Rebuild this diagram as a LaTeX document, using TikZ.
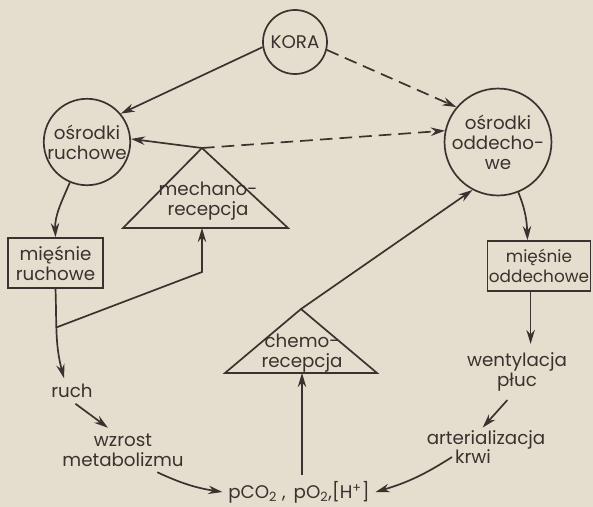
\documentclass[tikz,border=0pt]{standalone}
\usepackage{fontspec}
\setmainfont{Poppins}
\usetikzlibrary{arrows.meta,calc}
\definecolor{paper}{RGB}{229,221,205}
\definecolor{ink}{RGB}{58,50,46}
\tikzset{
  arr/.style={-{Stealth[length=10pt,width=6pt]}, line width=1.2pt, draw=ink},
  dasharr/.style={arr, dash pattern=on 9pt off 5pt},
  centre/.style={circle, draw=ink, line width=1.2pt, inner sep=0pt, align=center, text=ink, font=\fontsize{13}{14.2}\selectfont},
  musc/.style={rectangle, draw=ink, line width=1.2pt, inner xsep=1pt, inner ysep=2pt, align=center, text=ink, minimum height=1.25cm, font=\fontsize{13}{14.2}\selectfont},
  lbl/.style={align=center, inner sep=4pt, text=ink, font=\fontsize{13}{14.2}\selectfont},
  tri/.style={line width=1.2pt, draw=ink, line join=miter}
}

\begin{document}
\begin{tikzpicture}[x=0.025cm,y=-0.025cm]
\fill[paper] (0,0) rectangle (593,507);
\useasboundingbox (0,0) rectangle (593,507);

\node[centre, minimum size=1.6cm] (kora) at (295,42) {KORA};
\node[centre, minimum size=2.1cm] (osr) at (87,142) {ośrodki\\ruchowe};
\node[centre, minimum size=2.15cm] (odd) at (498,142) {ośrodki\\oddecho-\\we};

\node[musc, minimum width=2.375cm] (mr) at (55.5,263) {mięśnie\\ruchowe};
\node[musc, minimum width=2.5cm, font=\fontsize{12}{14.2}\selectfont] (mo) at (539,266) {mięśnie\\oddechowe};

\coordinate (mapex) at (202,148);
\coordinate (mbase) at (202,228);
\coordinate (brk) at (202,272);
\draw[tri] (mapex) -- (288,228) -- (123,228) -- cycle;
\node[lbl] (mech) at (208,201) {mechano-\\recepcja};

\coordinate (capex) at (301,309);
\coordinate (cbase) at (302,373);
\draw[tri] (capex) -- (377,373) -- (225,373) -- cycle;
\node[lbl] (chem) at (302,353) {chemo-\\recepcja};

\node[lbl] (ruch) at (72,391) {ruch};
\node[lbl] (wz) at (123,450) {wzrost\\metabolizmu};
\node[lbl] (pco) at (299,492) {pCO\textsubscript{2} ,\, pO\textsubscript{2},[H\textsuperscript{+}]};
\node[lbl, inner sep=6pt] (went) at (517,372) {wentylacja\\płuc};
\node[lbl, inner sep=2pt] (art) at (486,440) {arterializacja};
\node[lbl, inner sep=2pt] (krwi) at (473,457) {krwi};

\draw[arr] (kora.189) -- (osr.40);
\draw[dasharr] (kora.-14) -- (odd.140);
\draw[arr] (mapex) -- (osr.4);
\draw[dasharr] (mapex) -- (odd.168);

\draw[arr] (osr.247) to[out=247,in=92] (mr.north);
\draw[arr] (mr.south) to[out=-88,in=105] coordinate[pos=0.42] (br) (ruch.122);
\draw[arr] (br) -- (brk) -- (mbase);
\draw[arr] (ruch.-75) -- (wz.124);
\draw[arr] (wz.-33) to[bend right=8] (pco.west);

\draw[arr] (cbase |- pco.north) -- (cbase);
\draw[arr] (capex) -- (odd.242);

\draw[arr] (odd.292) to[out=292,in=92] (mo.114);
\draw[arr] (mo.252) -- (went.north -| mo.252);
\draw[arr] (went.-109) -- (art.105);
\draw[arr] (krwi.west) to[bend left=8] (pco.east);
\end{tikzpicture}
\end{document}
